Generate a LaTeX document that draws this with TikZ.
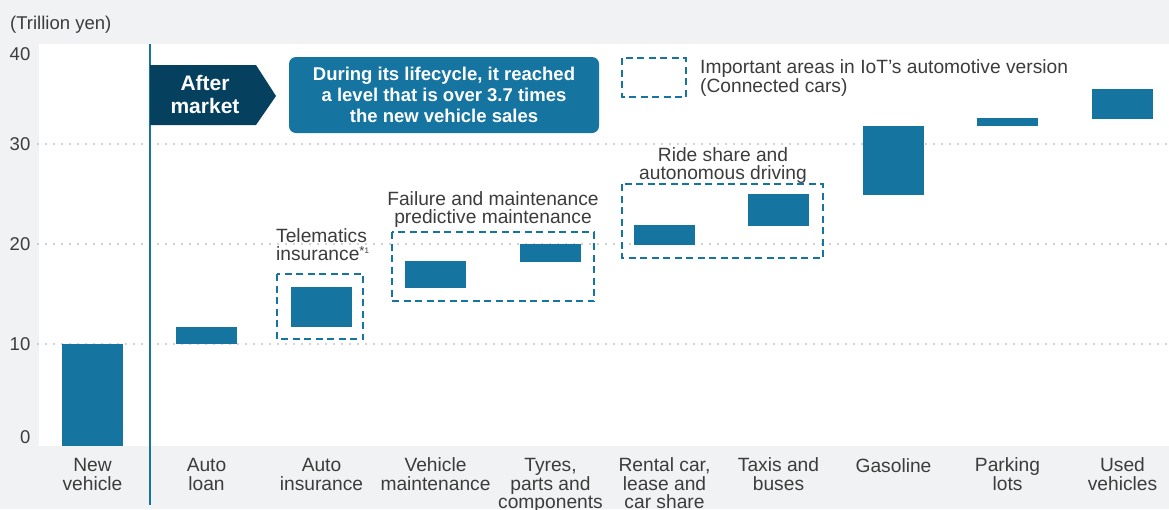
\documentclass[tikz,border=0pt]{standalone}
\usepackage{fontspec}
\setmainfont{Liberation Sans}
\definecolor{barblue}{HTML}{1574A0}
\definecolor{navy}{HTML}{05405E}
\definecolor{bggray}{HTML}{F1F2F4}
\definecolor{txt}{HTML}{3C3C3C}
\definecolor{gridg}{HTML}{A6A6A6}
\begin{document}
\begin{tikzpicture}[x=1pt,y=-1pt,
  lbl/.style={font=\fontsize{19.2}{18.5}\selectfont, text=txt, inner sep=0pt, align=center, anchor=base},
  ylbl/.style={font=\fontsize{18.5}{18.5}\selectfont, text=txt, inner sep=0pt, anchor=base east},
  note/.style={font=\fontsize{19.2}{17.5}\selectfont, text=txt, inner sep=0pt, align=center, anchor=base},
  bar/.style={fill=barblue},
  grid/.style={gridg, line width=1.8pt, line cap=round, dash pattern=on 0pt off 8pt},
  dashbox/.style={draw=barblue, line width=2.5pt, dash pattern=on 7pt off 4.5pt},
]
\useasboundingbox (0,0) rectangle (1169,509);
\fill[bggray] (0,0) rectangle (1169,509);
\fill[white] (39,44) rectangle (1169,446);
% grid
\foreach \gy in {144,244,344} \draw[grid] (38,\gy) -- (1169,\gy);
% bars
\foreach \bx/\ta/\tb in {62/344/446,176/327/344,291/287/327,405/261/288,520/244/262,634/225/245,748/194/226,863/126/195,977/118/126,1092/89/119}
  \fill[bar] (\bx,\ta) rectangle ({\bx+61},\tb);
% vertical divider
\coordinate (divtop) at (150,44);
\coordinate (divbot) at (150,505);
\draw[barblue, line width=2pt] (divtop) -- (divbot);
% dashed boxes
\draw[dashbox] (277,274) rectangle (363,339);
\draw[dashbox] (392,232) rectangle (594,301);
\draw[dashbox] (622,184) rectangle (823,258);
\draw[dashbox] (622,58) rectangle (686,97);
% after market arrow
\fill[navy] (150,65) -- (256,65) -- (276,96) -- (256,125) -- (150,125) -- cycle;
\node[font=\bfseries\fontsize{21}{22.5}\selectfont, text=white, align=center, inner sep=0pt, anchor=base] (after) at (205,113.3) {After\\market};
% callout box
\node[fill=barblue, rounded corners=7pt, minimum width=310pt, minimum height=76pt, inner sep=0pt] (callout) at (444,95) {};
\node[font=\bfseries\fontsize{18.5}{21}\selectfont, text=white, align=center, inner sep=0pt, anchor=base] (callouttxt) at (444,122.7) {During its lifecycle, it reached\\a level that is over 3.7 times\\the new vehicle sales};
% unit
\node[ylbl, anchor=base west] (unit) at (10,29.3) {(Trillion yen)};
% y labels
\node[ylbl] (y40) at (30.5,60) {40};
\node[ylbl] (y30) at (30.5,150.7) {30};
\node[ylbl] (y20) at (30.5,250.7) {20};
\node[ylbl] (y10) at (30.5,350.7) {10};
\node[ylbl] (y0) at (30.5,443) {0};
% legend
\node[note, align=left, anchor=base west] (legend) at (700,92) {Important areas in IoT’s automotive version\\(Connected cars)};
% annotations
\node[note, align=left, anchor=base west] (telem) at (276,260) {Telematics\\insurance\raisebox{5pt}{\fontsize{13}{13}\selectfont*\fontsize{8}{8}\selectfont\raisebox{2pt}{1}}};
\node[note] (fail) at (493,223) {Failure and maintenance\\predictive maintenance};
\node[note] (ride) at (723,179) {Ride share and\\autonomous driving};
% category labels
\node[lbl] (c1) at (92.5,490) {New\\vehicle};
\node[lbl] (c2) at (206.5,490) {Auto\\loan};
\node[lbl] (c3) at (321.5,490) {Auto\\insurance};
\node[lbl] (c4) at (435.5,490) {Vehicle\\maintenance};
\node[lbl] (c5) at (550.5,508.5) {Tyres,\\parts and\\components};
\node[lbl] (c6) at (664.5,508.5) {Rental car,\\lease and\\car share};
\node[lbl] (c7) at (778.5,490) {Taxis and\\buses};
\node[lbl] (c8) at (893.5,472) {Gasoline};
\node[lbl] (c9) at (1007.5,490) {Parking\\lots};
\node[lbl] (c10) at (1122.5,490) {Used\\vehicles};
\end{tikzpicture}
\end{document}
